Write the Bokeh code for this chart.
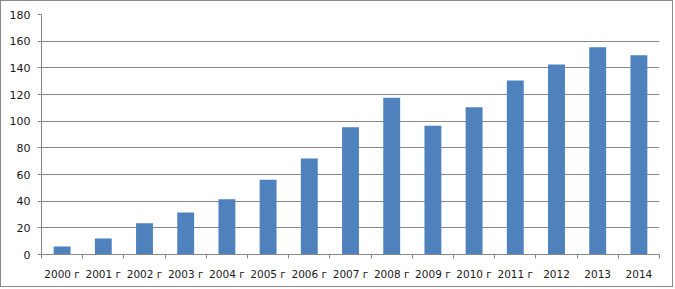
from bokeh.plotting import figure
from bokeh.models import FixedTicker, Range1d, ColumnDataSource
from bokeh.embed import file_html
from bokeh.resources import INLINE

years = ["2000 г", "2001 г", "2002 г", "2003 г", "2004 г", "2005 г", "2006 г",
         "2007 г", "2008 г", "2009 г", "2010 г", "2011 г", "2012", "2013", "2014"]
values = [6, 12, 23.5, 31.5, 41.5, 56, 72, 95.5, 117.5, 96.5, 110.5, 130.5, 142.5, 155.5, 149.5]
y_ticks = [0, 20, 40, 60, 80, 100, 120, 140, 160, 180]

n = len(years)
centers = [i + 0.5 for i in range(n)]
bounds = list(range(n + 1))

GRID = "#878787"
TEXT = "#1a1a1a"
FONT = "DejaVu Sans"

p = figure(width=673, height=287, output_backend="svg", toolbar_location=None,
           x_range=Range1d(0, n), y_range=Range1d(0, 180),
           min_border_left=40, min_border_right=15, min_border_top=13, min_border_bottom=34)
p.styles = {"border": "1px solid #8a8a8a"}
p.outline_line_color = None
p.background_fill_color = "white"
p.border_fill_color = "white"

src = ColumnDataSource(dict(x=centers, top=values))
p.vbar(x="x", top="top", bottom=0, width=0.41, source=src, fill_color="#4F81BD", line_color=None)

p.xgrid.visible = False
p.ygrid.ticker = FixedTicker(ticks=y_ticks)
p.ygrid.grid_line_color = GRID
p.ygrid.grid_line_width = 1

xa = p.xaxis[0]
xa.ticker = FixedTicker(ticks=centers, minor_ticks=bounds)
xa.major_label_overrides = {c: y for c, y in zip(centers, years)}
xa.major_tick_out = 0
xa.major_tick_in = 0
xa.minor_tick_out = 4
xa.minor_tick_in = 0
xa.minor_tick_line_color = GRID
xa.axis_line_color = GRID
xa.major_label_text_font = FONT
xa.major_label_text_font_size = "10.5px"
xa.major_label_text_color = TEXT
xa.major_label_standoff = 9

ya = p.yaxis[0]
ya.ticker = FixedTicker(ticks=y_ticks)
ya.major_tick_out = 4
ya.major_tick_in = 0
ya.minor_tick_out = 0
ya.minor_tick_in = 0
ya.major_tick_line_color = GRID
ya.axis_line_color = GRID
ya.major_label_text_font = FONT
ya.major_label_text_font_size = "11px"
ya.major_label_text_color = TEXT
ya.major_label_standoff = 7

open("out.html", "w").write(file_html(p, INLINE))
